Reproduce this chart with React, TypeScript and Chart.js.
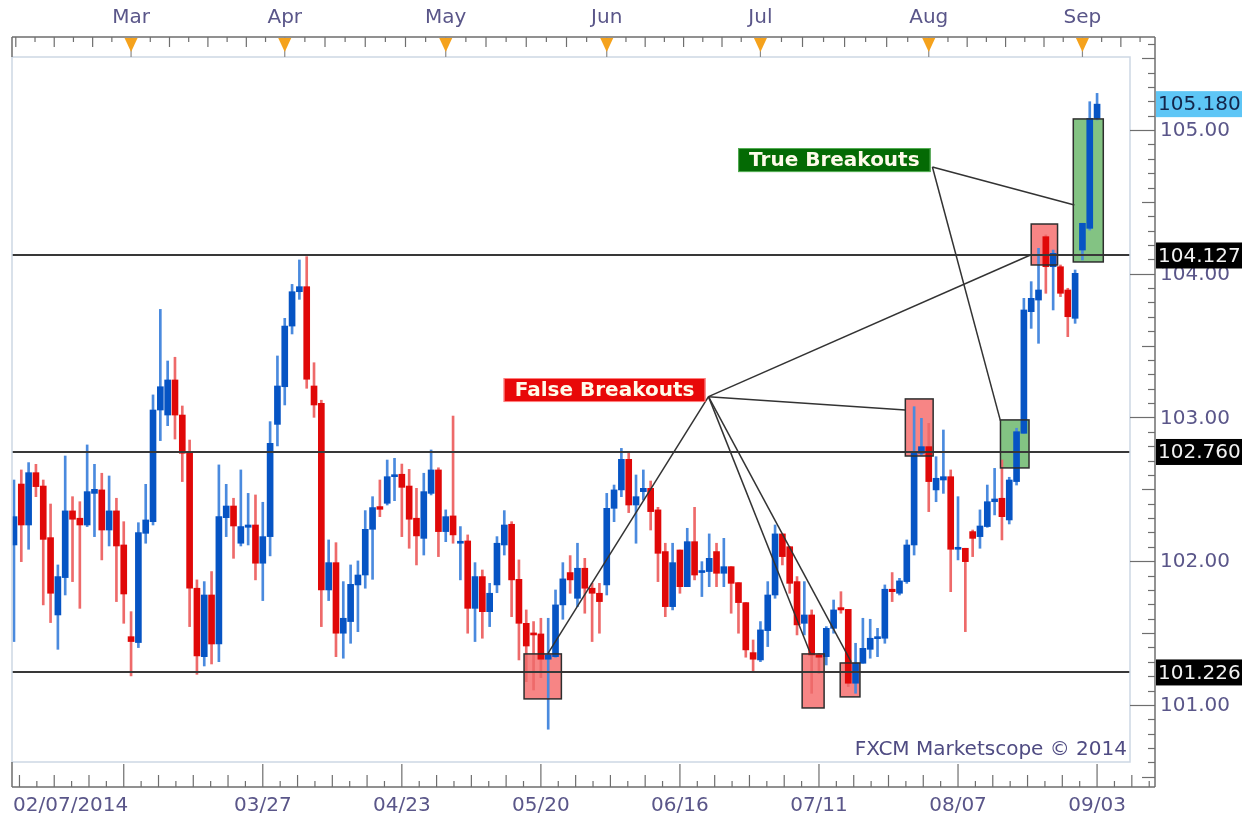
import React, { useEffect, useRef } from 'react';
import { Chart, registerables } from 'chart.js';

Chart.register(...registerables);

// ---- Candle data (index 0 = 02/07/2014, one weekday per step) ----
const opens = [
  102.113, 102.537, 102.252, 102.616, 102.523, 102.164, 101.626, 101.886, 102.350, 102.299,
  102.252, 102.472, 102.496, 102.217, 102.350, 102.113, 101.475, 101.434, 102.194, 102.275,
  103.052, 103.017, 103.261, 103.017, 102.751, 101.812, 101.336, 101.765, 101.424, 102.303,
  102.384, 102.125, 102.236, 102.252, 101.986, 102.171, 102.952, 103.214, 103.636, 103.875,
  103.910, 103.219, 103.099, 101.800, 101.990, 101.499, 101.580, 101.835, 101.904, 102.222,
  102.380, 102.403, 102.588, 102.605, 102.523, 102.299, 102.159, 102.472, 102.635, 102.206,
  102.315, 102.125, 102.141, 101.672, 101.893, 101.649, 101.835, 102.113, 102.257, 101.874,
  101.568, 101.499, 101.494, 101.318, 101.336, 101.696, 101.921, 101.742, 101.951, 101.812,
  101.777, 101.835, 102.368, 102.496, 102.709, 102.391, 102.484, 102.507, 102.357, 102.067,
  101.684, 102.078, 101.823, 102.136, 101.921, 101.928, 102.067, 101.916, 101.962, 101.851,
  101.712, 101.364, 101.313, 101.517, 101.765, 102.190, 102.101, 101.858, 101.568, 101.626,
  101.348, 101.336, 101.533, 101.677, 101.665, 101.151, 101.290, 101.387, 101.461, 101.464,
  101.805, 101.777, 101.858, 102.113, 102.751, 102.797, 102.496, 102.565, 102.588, 102.083,
  102.090, 102.206, 102.171, 102.241, 102.414, 102.438, 102.287, 102.554, 102.890, 103.736,
  103.817, 104.258, 104.049, 104.049, 103.887, 103.690, 104.165, 104.316, 105.081,
];
const highs = [
  102.565, 102.635, 102.686, 102.674, 102.565, 102.398, 101.974, 102.732, 102.449, 102.414,
  102.809, 102.674, 102.612, 102.593, 102.438, 102.275, 101.649, 102.268, 102.535, 103.157,
  103.752, 103.393, 103.419, 103.080, 102.843, 101.870, 101.858, 101.928, 102.670, 102.535,
  102.438, 102.635, 102.472, 102.461, 102.410, 102.971, 103.428, 103.690, 103.926, 104.096,
  104.119, 103.381, 103.120, 102.148, 102.129, 101.858, 101.974, 102.002, 102.352, 102.449,
  102.565, 102.704, 102.716, 102.676, 102.639, 102.507, 102.612, 102.774, 102.650, 102.357,
  103.010, 102.241, 102.183, 101.990, 101.939, 101.846, 102.171, 102.352, 102.275, 102.009,
  101.661, 101.580, 101.603, 101.603, 101.800, 101.990, 102.039, 102.125, 102.020, 101.846,
  101.846, 102.472, 102.530, 102.785, 102.751, 102.600, 102.635, 102.558, 102.375, 102.125,
  102.125, 102.078, 102.229, 102.375, 101.997, 102.190, 102.125, 102.159, 101.962, 101.851,
  101.712, 101.452, 101.580, 101.858, 102.252, 102.190, 102.101, 101.893, 101.858, 101.661,
  101.359, 101.545, 101.730, 101.788, 101.665, 101.429, 101.603, 101.596, 101.533, 101.835,
  101.921, 101.881, 102.148, 103.075, 102.994, 102.959, 102.727, 102.913, 102.635, 102.449,
  102.090, 102.217, 102.357, 102.530, 102.646, 102.704, 102.584, 102.925, 103.829, 103.945,
  104.177, 104.270, 104.165, 104.061, 103.899, 104.026, 104.351, 105.197, 105.255,
];
const lows = [
  101.441, 101.997, 102.083, 102.449, 101.696, 101.573, 101.387, 101.765, 101.858, 101.672,
  102.241, 102.171, 102.009, 102.106, 101.719, 101.568, 101.202, 101.399, 102.125, 102.252,
  102.839, 102.943, 102.850, 102.554, 101.545, 101.213, 101.271, 101.285, 101.301, 102.171,
  102.020, 102.106, 102.113, 101.870, 101.726, 102.037, 102.802, 103.087, 103.581, 103.822,
  103.203, 103.001, 101.545, 101.726, 101.336, 101.325, 101.429, 101.510, 101.812, 101.874,
  102.310, 102.391, 102.421, 102.171, 102.090, 101.974, 102.043, 102.461, 102.032, 102.136,
  102.125, 101.870, 101.499, 101.441, 101.464, 101.545, 101.781, 102.043, 101.614, 101.313,
  101.162, 101.104, 101.190, 100.831, 101.332, 101.596, 101.777, 101.684, 101.638, 101.441,
  101.499, 101.765, 102.275, 102.449, 102.338, 102.125, 102.426, 102.217, 101.858, 101.614,
  101.661, 101.777, 101.823, 101.870, 101.754, 101.823, 101.823, 101.823, 101.638, 101.499,
  101.332, 101.232, 101.301, 101.406, 101.742, 101.974, 101.777, 101.487, 101.487, 101.081,
  101.220, 101.278, 101.499, 101.638, 101.128, 101.081, 101.290, 101.325, 101.336, 101.429,
  101.719, 101.765, 101.846, 102.043, 102.739, 102.345, 102.414, 102.472, 101.788, 102.009,
  101.510, 102.032, 102.090, 102.236, 102.322, 102.148, 102.259, 102.530, 102.890, 103.620,
  103.516, 103.864, 103.748, 103.841, 103.562, 103.655, 104.096, 104.304, 105.070,
];
const closes = [
  102.310, 102.252, 102.616, 102.519, 102.152, 101.777, 101.893, 102.350, 102.292, 102.252,
  102.484, 102.500, 102.217, 102.350, 102.106, 101.772, 101.441, 102.199, 102.287, 103.052,
  103.214, 103.261, 103.017, 102.751, 101.812, 101.341, 101.765, 101.424, 102.310, 102.384,
  102.245, 102.241, 102.252, 101.986, 102.171, 102.820, 103.219, 103.636, 103.875, 103.910,
  103.266, 103.087, 101.800, 101.990, 101.499, 101.603, 101.839, 101.904, 102.222, 102.373,
  102.361, 102.588, 102.600, 102.514, 102.292, 102.176, 102.484, 102.635, 102.206, 102.310,
  102.183, 102.136, 101.672, 101.893, 101.649, 101.777, 102.125, 102.252, 101.870, 101.568,
  101.410, 101.487, 101.318, 101.348, 101.696, 101.877, 101.870, 101.951, 101.812, 101.777,
  101.719, 102.368, 102.496, 102.709, 102.391, 102.449, 102.507, 102.345, 102.055, 101.684,
  101.990, 101.823, 102.136, 101.904, 101.934, 102.020, 101.916, 101.962, 101.846, 101.712,
  101.383, 101.318, 101.522, 101.765, 102.190, 102.032, 101.846, 101.557, 101.626, 101.348,
  101.332, 101.533, 101.661, 101.661, 101.151, 101.290, 101.394, 101.464, 101.471, 101.805,
  101.788, 101.863, 102.113, 102.751, 102.797, 102.554, 102.577, 102.588, 102.083, 102.094,
  101.997, 102.159, 102.245, 102.414, 102.433, 102.310, 102.565, 102.901, 103.748, 103.829,
  103.887, 104.049, 104.142, 103.864, 103.701, 104.003, 104.351, 105.081, 105.180,
];

// ---- Axis labels ----
const yTickValues = [101, 102, 103, 104, 105];
const bottomLabels = ['02/07/2014', '03/27', '04/23', '05/20', '06/16', '07/11', '08/07', '09/03'];
const bottomLabelIdx = [0, 34, 53, 72, 91, 110, 129, 148];
const bottomMajorIdx = [15, 34, 53, 72, 91, 110, 129, 148];
const monthLabels = ['Mar', 'Apr', 'May', 'Jun', 'Jul', 'Aug', 'Sep'];
const monthIdx = [16, 37, 59, 81, 102, 125, 146];

// ---- Levels ----
const levelValues = [104.127, 102.76, 101.226];
const levelLabels = ['104.127', '102.760', '101.226'];
const lastPrice = 105.18;
const lastPriceLabel = '105.180';

// ---- Annotations (in index / price units) ----
const falseBoxes = [
  [69.7, 74.8, 101.042, 101.355],
  [107.7, 110.7, 100.979, 101.355],
  [112.9, 115.6, 101.056, 101.292],
  [121.8, 125.6, 102.732, 103.129],
  [139.0, 142.6, 104.061, 104.346],
];
const trueBoxes = [
  [134.8, 138.7, 102.649, 102.983],
  [144.75, 148.85, 104.082, 105.077],
];
const falseLabel = { text: 'False Breakouts', x: 80.7, y: 103.191 };
const trueLabel = { text: 'True Breakouts', x: 112.1, y: 104.791 };
const falseAnchor = [94.9, 103.145];
const falseTargets = [
  [73.0, 101.36],
  [108.8, 101.362],
  [114.4, 101.3],
  [121.8, 103.052],
  [138.9, 104.13],
];
const trueAnchor = [125.5, 104.743];
const trueTargets = [
  [134.8, 102.976],
  [144.9, 104.478],
];

const UP = '#0654c4';
const DOWN = '#e00808';
const UP_WICK = '#4a8ade';
const DOWN_WICK = '#ee6a6a';
const TEXT = '#5a5689';
const FONT = '20px "DejaVu Sans", Verdana, sans-serif';
const BOLD = 'bold 20px "DejaVu Sans", Verdana, sans-serif';

const overlay = {
  id: 'overlay',
  beforeDraw(chart: any) {
    const { ctx } = chart;
    ctx.save();
    ctx.fillStyle = '#ffffff';
    ctx.fillRect(0, 0, chart.width, chart.height);
    ctx.restore();
  },
  beforeDatasetsDraw(chart: any) {
    const { ctx, scales } = chart;
    const x = scales.x, y = scales.y;
    ctx.save();
    const fillBox = (b: number[], color: string) => {
      const x0 = x.getPixelForValue(b[0]);
      const x1 = x.getPixelForValue(b[1]);
      const y0 = y.getPixelForValue(b[3]);
      const y1 = y.getPixelForValue(b[2]);
      ctx.fillStyle = color;
      ctx.fillRect(x0, y0, x1 - x0, y1 - y0);
    };
    falseBoxes.forEach((b) => fillBox(b, 'rgba(246,120,120,0.9)'));
    trueBoxes.forEach((b) => fillBox(b, 'rgba(118,188,118,0.9)'));
    ctx.restore();
  },
  afterDatasetsDraw(chart: any) {
    const { ctx, chartArea: a, scales } = chart;
    const x = scales.x, y = scales.y;
    ctx.save();
    ctx.beginPath();
    ctx.rect(a.left, a.top, a.right - a.left, a.bottom - a.top);
    ctx.clip();

    // horizontal levels
    ctx.strokeStyle = '#383838';
    ctx.lineWidth = 2;
    levelValues.forEach((v) => {
      const py = Math.round(y.getPixelForValue(v));
      ctx.beginPath();
      ctx.moveTo(a.left, py);
      ctx.lineTo(a.right, py);
      ctx.stroke();
    });

    // box borders
    ctx.strokeStyle = '#2e2e2e';
    ctx.lineWidth = 1.5;
    [...falseBoxes, ...trueBoxes].forEach((b) => {
      const x0 = x.getPixelForValue(b[0]);
      const x1 = x.getPixelForValue(b[1]);
      const y0 = y.getPixelForValue(b[3]);
      const y1 = y.getPixelForValue(b[2]);
      ctx.strokeRect(x0, y0, x1 - x0, y1 - y0);
    });

    // connectors
    ctx.strokeStyle = '#333333';
    ctx.lineWidth = 1.5;
    const connect = (from: number[], tos: number[][]) => {
      const fx = x.getPixelForValue(from[0]);
      const fy = y.getPixelForValue(from[1]);
      tos.forEach((t) => {
        ctx.beginPath();
        ctx.moveTo(fx, fy);
        ctx.lineTo(x.getPixelForValue(t[0]), y.getPixelForValue(t[1]));
        ctx.stroke();
      });
    };
    connect(falseAnchor, falseTargets);
    connect(trueAnchor, trueTargets);

    // labels
    const label = (l: { text: string; x: number; y: number }, bg: string, edge: string) => {
      ctx.font = BOLD;
      const w = ctx.measureText(l.text).width + 22;
      const h = 24;
      const cx = x.getPixelForValue(l.x);
      const cy = y.getPixelForValue(l.y);
      ctx.fillStyle = bg;
      ctx.fillRect(cx - w / 2, cy - h / 2, w, h);
      ctx.strokeStyle = edge;
      ctx.lineWidth = 1;
      ctx.strokeRect(cx - w / 2 + 0.5, cy - h / 2 + 0.5, w - 1, h - 1);
      ctx.fillStyle = '#fffbea';
      ctx.textAlign = 'center';
      ctx.textBaseline = 'middle';
      ctx.fillText(l.text, cx, cy + 1);
    };
    label(falseLabel, '#e80808', '#ff8080');
    label(trueLabel, '#046a04', '#58b058');

    // watermark
    ctx.font = FONT;
    ctx.fillStyle = '#4f4b82';
    ctx.textAlign = 'right';
    ctx.textBaseline = 'middle';
    ctx.fillText('FXCM Marketscope © 2014', a.right - 3, 750);
    ctx.restore();
  },
  afterDraw(chart: any) {
    const { ctx, chartArea: a, scales } = chart;
    const x = scales.x, y = scales.y;
    const axisX = a.right + 25;
    const topY = 37;
    const botY = 787;
    ctx.save();

    // plot frame
    ctx.strokeStyle = '#cdd7e4';
    ctx.lineWidth = 1.5;
    ctx.strokeRect(a.left, a.top, a.right - a.left, a.bottom - a.top);

    ctx.strokeStyle = '#6e6e6e';
    ctx.lineWidth = 1.5;
    ctx.beginPath();
    ctx.moveTo(a.left, topY);
    ctx.lineTo(axisX, topY);
    ctx.moveTo(a.left, topY);
    ctx.lineTo(a.left, a.top);
    ctx.stroke();
    ctx.beginPath();
    ctx.moveTo(axisX, topY);
    ctx.lineTo(axisX, botY);
    ctx.stroke();
    ctx.beginPath();
    ctx.moveTo(a.left, botY);
    ctx.lineTo(axisX, botY);
    ctx.moveTo(a.left, a.bottom);
    ctx.lineTo(a.left, botY);
    ctx.stroke();

    // top ticks
    ctx.lineWidth = 1.2;
    const topTicks: { v: number; tall: boolean }[] = [];
    for (let j = 0; j < monthIdx.length; j++) {
      const start = monthIdx[j];
      const span = j < monthIdx.length - 1 ? (monthIdx[j + 1] - start) / 8 : 2.625;
      for (let k = 1; k < 8; k++) topTicks.push({ v: start + k * span, tall: k % 2 === 0 });
    }
    for (let k = 1; k < 8; k++) topTicks.push({ v: monthIdx[0] - k * 2.625, tall: k % 2 === 0 });
    topTicks.forEach((t) => {
      const px = x.getPixelForValue(t.v);
      if (px <= a.left + 2 || px >= axisX - 2) return;
      ctx.beginPath();
      ctx.moveTo(px, topY);
      ctx.lineTo(px, topY + (t.tall ? 10 : 5));
      ctx.stroke();
    });
    ctx.font = FONT;
    ctx.textAlign = 'center';
    ctx.textBaseline = 'middle';
    monthIdx.forEach((m, j) => {
      const px = x.getPixelForValue(m);
      ctx.strokeStyle = '#8a8a8a';
      ctx.beginPath();
      ctx.moveTo(px, topY);
      ctx.lineTo(px, a.top);
      ctx.stroke();
      ctx.fillStyle = '#f5a21c';
      ctx.beginPath();
      ctx.moveTo(px - 6.5, topY + 1);
      ctx.lineTo(px + 6.5, topY + 1);
      ctx.lineTo(px, topY + 15);
      ctx.closePath();
      ctx.fill();
      ctx.fillStyle = TEXT;
      ctx.fillText(monthLabels[j], px, 18);
    });

    // bottom ticks
    ctx.strokeStyle = '#6e6e6e';
    const step = 19 / 8;
    const bTicks: { v: number; h: number }[] = [];
    bottomMajorIdx.forEach((m) => {
      bTicks.push({ v: m, h: botY - a.bottom - 2 });
      for (let k = 1; k < 8; k++) bTicks.push({ v: m + k * step, h: k % 2 === 0 ? 12 : 6 });
    });
    for (let k = 1; k < 8; k++) bTicks.push({ v: bottomMajorIdx[0] - k * step, h: k % 2 === 0 ? 12 : 6 });
    bTicks.forEach((t) => {
      const px = x.getPixelForValue(t.v);
      if (px <= a.left + 2 || px >= axisX - 2) return;
      ctx.beginPath();
      ctx.moveTo(px, botY);
      ctx.lineTo(px, botY - t.h);
      ctx.stroke();
    });
    ctx.fillStyle = TEXT;
    ctx.textBaseline = 'middle';
    bottomLabels.forEach((l, j) => {
      const px = x.getPixelForValue(bottomLabelIdx[j]);
      ctx.textAlign = j === 0 ? 'left' : 'center';
      ctx.fillText(l, j === 0 ? a.left + 1 : px, 806);
    });

    // right axis ticks
    for (let k = 1000; k <= 1060; k++) {
      const v = k / 10;
      const py = y.getPixelForValue(v);
      if (py < topY + 3 || py > botY - 3) continue;
      const len = k % 10 === 0 ? axisX - a.right : k % 5 === 0 ? 13 : 7;
      ctx.beginPath();
      ctx.moveTo(axisX, Math.round(py) + 0.5);
      ctx.lineTo(axisX - len, Math.round(py) + 0.5);
      ctx.stroke();
    }
    ctx.textAlign = 'left';
    ctx.fillStyle = TEXT;
    yTickValues.forEach((v) => {
      ctx.fillText(v.toFixed(2), axisX + 5, y.getPixelForValue(v) + 1);
    });

    const tag = (v: number, text: string, bg: string, fg: string) => {
      const py = y.getPixelForValue(v);
      ctx.fillStyle = bg;
      ctx.fillRect(axisX + 1, py - 13, 86, 26);
      ctx.fillStyle = fg;
      ctx.textAlign = 'left';
      ctx.fillText(text, axisX + 3, py + 1);
    };
    levelValues.forEach((v, j) => tag(v, levelLabels[j], '#000000', '#f2f2f2'));
    tag(lastPrice, lastPriceLabel, '#5ec6f6', '#13254a');

    ctx.restore();
  },
};

export default function App() {
  const ref = useRef<HTMLCanvasElement | null>(null);
  useEffect(() => {
    document.body.style.margin = '0';
    const canvas = ref.current;
    if (!canvas) return;
    const idx = opens.map((_, i) => i);
    const isUp = (i: number) => closes[i] >= opens[i];
    const chart = new Chart(canvas, {
      type: 'bar',
      data: {
        datasets: [
          {
            label: 'wick',
            data: idx.map((i) => ({ x: i, y: [lows[i], highs[i]] })) as any,
            backgroundColor: idx.map((i) => (isUp(i) ? UP_WICK : DOWN_WICK)),
            barThickness: 2,
            grouped: false,
            borderWidth: 0,
            order: 2,
          } as any,
          {
            label: 'body',
            data: idx.map((i) => ({ x: i, y: [opens[i], closes[i]] })) as any,
            backgroundColor: idx.map((i) => (isUp(i) ? UP : DOWN)),
            barThickness: 6,
            grouped: false,
            borderWidth: 0,
            minBarLength: 2,
            order: 1,
          } as any,
        ],
      },
      options: {
        responsive: false,
        animation: false,
        devicePixelRatio: 1,
        layout: { padding: { left: 12, top: 57, right: 121, bottom: 60 } },
        scales: {
          x: { type: 'linear', display: false, min: -0.27, max: 152.5, offset: false },
          y: { type: 'linear', display: false, min: 100.603, max: 105.508 },
        },
        plugins: { legend: { display: false }, tooltip: { enabled: false } },
      } as any,
      plugins: [overlay],
    });
    return () => chart.destroy();
  }, []);
  return (
    <div style={{ position: 'fixed', left: 0, top: 0, width: 1251, height: 822 }}>
      <canvas ref={ref} width={1251} height={822} style={{ display: 'block' }} />
    </div>
  );
}
